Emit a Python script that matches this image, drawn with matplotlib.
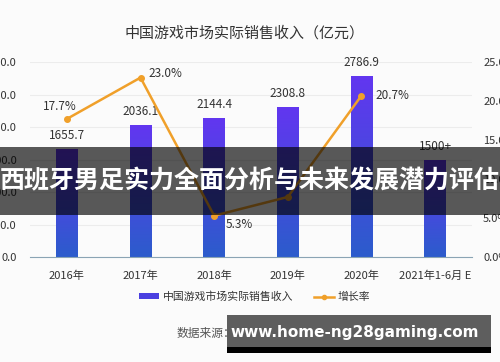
import numpy as np
import matplotlib.pyplot as plt
from matplotlib.lines import Line2D
from matplotlib.patches import Patch, Rectangle
from matplotlib.colors import LinearSegmentedColormap

plt.rcParams['font.family'] = ['Noto Sans CJK SC', 'DejaVu Sans']

# data
years = ['2016年', '2017年', '2018年', '2019年', '2020年', '2021年1-6月 E']
revenue = [1655.7, 2036.1, 2144.4, 2308.8, 2786.9, 1500]
revenue_labels = ['1655.7', '2036.1', '2144.4', '2308.8', '2786.9', '1500+']
growth = [17.7, 23.0, 5.3, 7.7, 20.7]
growth_labels = ['17.7%', '23.0%', '5.3%', '', '20.7%']
left_ticks = [0, 500, 1000, 1500, 2000, 2500, 3000]
right_ticks = [0, 5, 10, 15, 20, 25]

# label placement for the growth points: (dx, dy, ha)
growth_pos = [(-5, 9, 'center'), (6, 3, 'left'), (8, -6, 'left'), (6, 0, 'left'), (10, 0, 'left')]

fig = plt.figure(figsize=(5, 3.62), dpi=100)
fig.patch.set_facecolor('#fbfbfb')
ax = fig.add_axes([0.06, 0.29, 0.884, 0.5387])
ax.set_facecolor('#fbfbfb')
ax2 = ax.twinx()

x = np.arange(len(years))
bars = ax.bar(x, revenue, width=0.29, color='#4a45e0', zorder=2)

# vertical gradient in each bar
cmap = LinearSegmentedColormap.from_list('g', ['#2c5ccc', '#6236f0'])
grad = np.linspace(0, 1, 100).reshape(-1, 1)
for b in bars:
    x0, y0 = b.get_x(), b.get_y()
    im = ax.imshow(grad, cmap=cmap, origin='lower', aspect='auto',
                   extent=[x0, x0 + b.get_width(), y0, y0 + b.get_height()], zorder=2)
    im.set_clip_path(b)

for xi, v, lab in zip(x, revenue, revenue_labels):
    ax.annotate(lab, (xi, v), xytext=(0, 5), textcoords='offset points',
                ha='center', va='bottom', fontsize=8.5, color='#333333')

ax.set_xlim(-0.5, len(years) - 0.5)
ax.set_ylim(0, 3000)
ax.set_yticks(left_ticks)
ax.set_yticklabels([f'{t:.1f}' for t in left_ticks])
ax.set_xticks(x)
ax.set_xticklabels(years)
ax.tick_params(axis='both', length=0, labelsize=8, colors='#333333')
ax.tick_params(axis='y', pad=9.5)
ax.tick_params(axis='x', pad=10)
for s in ['top', 'left', 'right']:
    ax.spines[s].set_visible(False)
ax.spines['bottom'].set_color('#8aa4b4')
ax.spines['bottom'].set_zorder(3)
ax.grid(axis='y', color='#ececec', linewidth=0.8, zorder=0)

ax2.plot(x[:len(growth)], growth, color='#f0a02a', linewidth=1.8,
         marker='o', markersize=4, markerfacecolor='#f0a02a', zorder=4)
for xi, g, lab, (dx, dy, ha) in zip(x, growth, growth_labels, growth_pos):
    ax2.annotate(lab, (xi, g), xytext=(dx, dy), textcoords='offset points',
                 ha=ha, va='center', fontsize=8.5, color='#333333')
ax2.set_ylim(0, 25)
ax2.set_yticks(right_ticks)
ax2.set_yticklabels([f'{t:.1f}%' for t in right_ticks])
ax2.tick_params(axis='y', length=0, labelsize=8, colors='#333333', pad=8)
for s in ['top', 'left', 'right', 'bottom']:
    ax2.spines[s].set_visible(False)

fig.text(0.489, 0.909, '中国游戏市场实际销售收入（亿元）', ha='center', va='center',
         fontsize=10.8, color='#333333')

handles = [Patch(facecolor='#4a3fe0', label='中国游戏市场实际销售收入'),
           Line2D([0], [0], color='#f0a02a', lw=1.8, marker='o', markersize=3,
                  label='增长率')]
fig.legend(handles=handles, loc='center', bbox_to_anchor=(0.509, 0.18), ncol=2,
           frameon=False, fontsize=7.8, handlelength=1.9, handleheight=0.5,
           handletextpad=0.3, columnspacing=1.9, labelcolor='#333333')

fig.text(0.354, 0.08, '数据来源：', ha='left', va='center', fontsize=8.5, color='#555555')

# overlay banners
fig.add_artist(Rectangle((0, 1 - 215 / 362), 1, 68 / 362, transform=fig.transFigure,
                         facecolor='black', alpha=0.65, zorder=10))
fig.text(0.5, 1 - 181 / 362, '西班牙男足实力全面分析与未来发展潜力评估', ha='center',
         va='center', fontsize=18, color='white', fontweight='bold', zorder=11)
fig.add_artist(Rectangle((227 / 500, 1 - 353 / 362), 264 / 500, 6 / 362,
                         transform=fig.transFigure, facecolor='black', zorder=10))
fig.add_artist(Rectangle((227 / 500, 1 - 347 / 362), 264 / 500, 32 / 362,
                         transform=fig.transFigure, facecolor='#5e5e5e', zorder=10))
fig.text(0.709, 1 - 332 / 362, 'www.home-ng28gaming.com', ha='center', va='center',
         fontsize=11, color='white', fontweight='bold', family='DejaVu Sans', zorder=11)

fig.savefig('out.png', dpi=100, facecolor=fig.get_facecolor())
